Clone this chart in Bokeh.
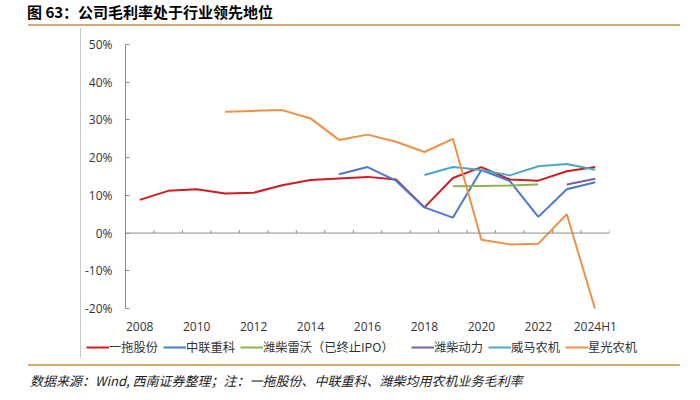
import numpy as np
from bokeh.plotting import figure
from bokeh.models import (Range1d, FixedTicker, PrintfTickFormatter, Span, Legend,
                          LegendItem, ColumnDataSource, Div)
from bokeh.layouts import column, row
from bokeh.embed import file_html
from bokeh.resources import INLINE

nan = float("nan")
categories = ["2008", "2009", "2010", "2011", "2012", "2013", "2014", "2015", "2016",
              "2017", "2018", "2019", "2020", "2021", "2022", "2023", "2024H1"]
yituo = [8.8, 11.2, 11.6, 10.5, 10.7, 12.7, 14.1, 14.5, 14.9, 14.2, 6.8, 14.6, 17.5, 14.2, 13.9, 16.4, 17.5]
zoomlion = [nan, nan, nan, nan, nan, nan, nan, 15.6, 17.5, 13.9, 6.8, 4.1, 16.7, 13.8, 4.3, 11.6, 13.5]
weichai_lovol = [nan, nan, nan, nan, nan, nan, nan, nan, nan, nan, nan, 12.4, 12.5, 12.6, 12.9, nan, nan]
weichai_power = [nan, nan, nan, nan, nan, nan, nan, nan, nan, nan, nan, nan, nan, nan, nan, 12.9, 14.4]
weima = [nan, nan, nan, nan, nan, nan, nan, nan, nan, nan, 15.4, 17.5, 16.7, 15.3, 17.7, 18.3, 16.8]
xingguang = [nan, nan, nan, 32.2, 32.4, 32.6, 30.4, 24.7, 26.1, 24.2, 21.5, 25.0, -1.8, -3.0, -2.8, 5.0, -20.3]

series_names = ["一拖股份", "中联重科", "潍柴雷沃（已终止IPO）", "潍柴动力", "威马农机", "星光农机"]
series_values = [yituo, zoomlion, weichai_lovol, weichai_power, weima, xingguang]
series_colors = ["#D01C1F", "#4A78CF", "#8CB44E", "#7B5EA3", "#4BA8C4", "#EF9048"]
y_ticks = [-20, -10, 0, 10, 20, 30, 40, 50]

title_text = "图 63：公司毛利率处于行业领先地位"
footer_text = "数据来源：Wind, 西南证券整理；注：一拖股份、中联重科、潍柴均用农机业务毛利率"

xs = list(range(len(categories)))

p = figure(width=619, height=309, output_backend="svg", toolbar_location=None,
           x_range=Range1d(-0.5, len(categories) - 0.5), y_range=Range1d(y_ticks[0], y_ticks[-1]),
           min_border_left=43, min_border_right=91, min_border_top=16, min_border_bottom=27,
           margin=0)
p.outline_line_color = None
p.xgrid.visible = False
p.ygrid.visible = False
p.background_fill_color = "white"
p.border_fill_color = "white"

# y axis
p.yaxis.ticker = FixedTicker(ticks=y_ticks)
p.yaxis.formatter = PrintfTickFormatter(format="%d%%")
p.yaxis.axis_line_color = "#8C8C8C"
p.yaxis.major_tick_line_color = "#8C8C8C"
p.yaxis.major_tick_in = 4
p.yaxis.major_tick_out = 0
p.yaxis.minor_tick_line_color = None
p.yaxis.major_label_standoff = 13
p.yaxis.major_label_text_font = "Open Sans"
p.yaxis.major_label_text_font_size = "12px"
p.yaxis.major_label_text_color = "#333333"

# x axis (labels only)
p.xaxis.ticker = FixedTicker(ticks=xs[::2])
p.xaxis.major_label_overrides = {i: categories[i] for i in xs[::2]}
p.xaxis.axis_line_color = None
p.xaxis.major_tick_line_color = None
p.xaxis.major_tick_in = 0
p.xaxis.major_tick_out = 0
p.xaxis.minor_tick_line_color = None
p.xaxis.major_label_standoff = 9
p.xaxis.major_label_text_font = "Open Sans"
p.xaxis.major_label_text_font_size = "12px"
p.xaxis.major_label_text_color = "#333333"

# zero line with category boundary ticks
p.add_layout(Span(location=0, dimension="width", line_color="#8C8C8C", line_width=1))
bounds = [i + 0.5 for i in xs]
p.segment(x0=bounds, y0=[0] * len(bounds), x1=bounds, y1=[0.8] * len(bounds),
          line_color="#8C8C8C", line_width=1)

for vals, col in zip(series_values, series_colors):
    src = ColumnDataSource(dict(x=xs, y=vals))
    p.line("x", "y", source=src, line_color=col, line_width=2)

# legend strip: a small canvas below the chart; its ranges keep the series out of view
lg = figure(width=619, height=21, output_backend="svg", toolbar_location=None,
            x_range=Range1d(-0.5, len(categories) - 0.5), y_range=Range1d(1000, 1001),
            x_axis_type=None, y_axis_type=None, min_border=0, margin=0)
lg.outline_line_color = None
lg.xgrid.visible = False
lg.ygrid.visible = False
items = []
for name, vals, col in zip(series_names, series_values, series_colors):
    src = ColumnDataSource(dict(x=xs, y=vals))
    r = lg.line("x", "y", source=src, line_color=col, line_width=2)
    label = name + ("\u2002\u2002" if "IPO" in name else "")
    items.append(LegendItem(label=label, renderers=[r]))
legend = Legend(items=items, location=(5, 2), orientation="horizontal",
                glyph_width=23, glyph_height=16, label_height=16, label_standoff=0,
                spacing=5, padding=0, margin=0,
                label_text_font="Noto Sans CJK SC", label_text_font_size="12.25px",
                label_text_color="#333333", border_line_color=None,
                background_fill_alpha=0)
lg.add_layout(legend)

title_div = Div(width=700, height=28, margin=0, text=(
    '<div style="position:relative;width:700px;height:28px;">'
    '<div style="position:absolute;left:27px;top:3px;white-space:nowrap;'
    "font-family:'Noto Sans CJK SC';font-weight:bold;font-size:15px;line-height:18px;color:#000;\">"
    + title_text + '</div>'
    '<div style="position:absolute;left:28px;top:24px;width:652px;height:2px;background:#D6AA6C;"></div>'
    '</div>'))


def side_line(h):
    return Div(width=81, height=h, margin=0, text=(
        f'<div style="position:relative;width:81px;height:{h}px;">'
        f'<div style="position:absolute;left:80px;top:0px;width:1px;height:{h}px;background:#C8C8C8;"></div>'
        '</div>'))


footer_div = Div(width=700, height=42, margin=0, text=(
    '<div style="position:relative;width:700px;height:42px;">'
    '<div style="position:absolute;left:28px;top:6px;width:652px;height:2px;background:#D6AA6C;"></div>'
    '<div style="position:absolute;left:30px;top:14px;white-space:nowrap;'
    "font-family:'Noto Sans CJK SC';font-style:italic;font-size:13px;line-height:18px;color:#222;\">"
    + footer_text + '</div>'
    '</div>'))

layout = column(title_div,
                row(side_line(309), p, spacing=0, margin=0),
                row(side_line(21), lg, spacing=0, margin=0),
                footer_div, spacing=0, margin=0)

open("out.html", "w").write(file_html(layout, INLINE))
